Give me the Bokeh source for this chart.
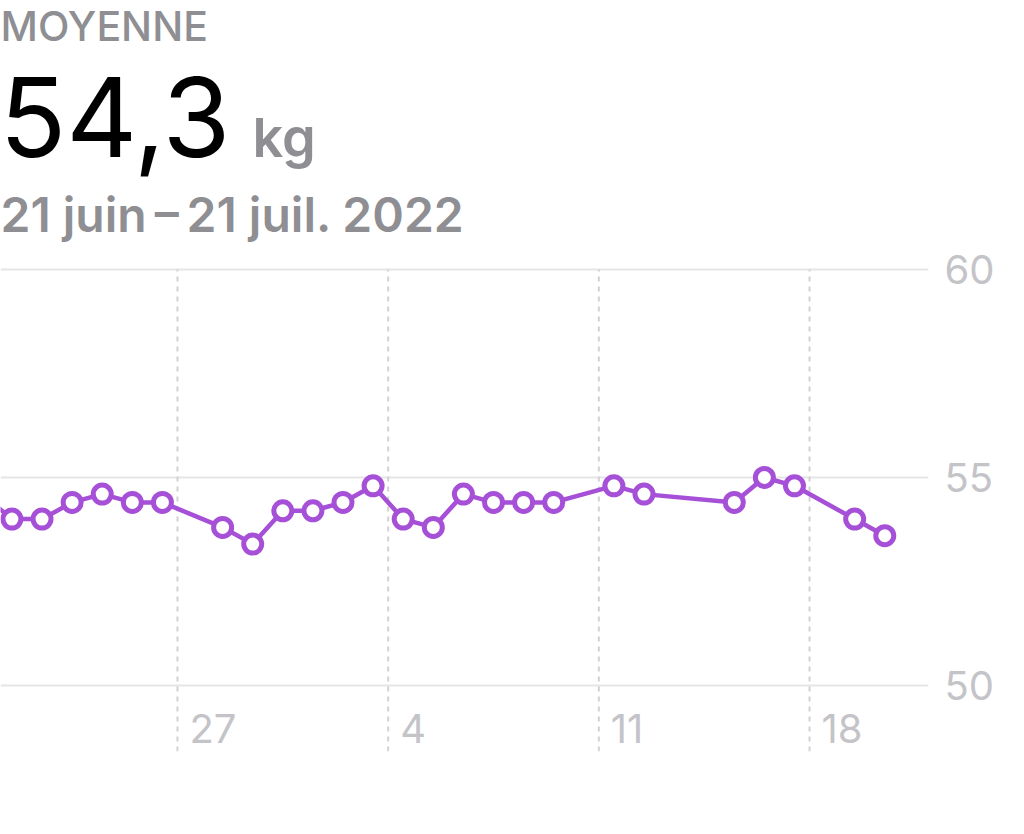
import pandas as pd
from bokeh.plotting import figure
from bokeh.models import Range1d, FixedTicker, Label, ColumnDataSource
from bokeh.embed import file_html
from bokeh.resources import INLINE
from bokeh.core.properties import value

# ---- data ----
dates = ["2022-06-20", "2022-06-21", "2022-06-22", "2022-06-23", "2022-06-24",
         "2022-06-25", "2022-06-26", "2022-06-28", "2022-06-29", "2022-06-30",
         "2022-07-01", "2022-07-02", "2022-07-03", "2022-07-04", "2022-07-05",
         "2022-07-06", "2022-07-07", "2022-07-08", "2022-07-09", "2022-07-11",
         "2022-07-12", "2022-07-15", "2022-07-16", "2022-07-17", "2022-07-19",
         "2022-07-20"]
weights = [54.6, 54.0, 54.0, 54.4, 54.6,
           54.4, 54.4, 53.8, 53.4, 54.2,
           54.2, 54.4, 54.8, 54.0, 53.8,
           54.6, 54.4, 54.4, 54.4, 54.8,
           54.6, 54.4, 55.0, 54.8, 54.0,
           53.6]
y_ticks = [50, 55, 60]
x_tick_dates = ["2022-06-27", "2022-07-04", "2022-07-11", "2022-07-18"]
x_tick_labels = ["27", "4", "11", "18"]
header_label = "MOYENNE"
average_text = "54,3"
unit_text = "kg"
period_text = "21 juin\u2009\u2013\u200921 juil. 2022"
view_start = "2022-06-21 02:53"
view_end = "2022-07-21 22:52"
y_bottom, y_top = 48.413, 66.466
grid_top = 60

# ---- helpers ----
def to_ms(ts):
    return pd.Timestamp(ts).value / 1e6

x_ms = [to_ms(pd.Timestamp(d) + pd.Timedelta(hours=12)) for d in dates]
tick_ms = [to_ms(d) for d in x_tick_dates]

PURPLE = "#a650d8"
GRAY = "#8e8e93"
LIGHT = "#c4c4c8"
FONT = "Inter"
FONT_MED = "Inter Medium, Inter"
FONT_SEMI = "Inter SemiBold, Inter"

p = figure(frame_width=928, frame_height=751,
           x_range=Range1d(to_ms(view_start), to_ms(view_end)),
           y_range=Range1d(y_bottom, y_top),
           y_axis_location="right", x_axis_location=None,
           output_backend="svg", toolbar_location=None,
           min_border_left=0, min_border_top=0, min_border_bottom=10,
           min_border_right=80, outline_line_color=None,
           background_fill_color="white", border_fill_color="white")

p.xgrid.visible = False

# y axis on the right
ax = p.yaxis[0]
ax.ticker = FixedTicker(ticks=y_ticks)
ax.axis_line_color = None
ax.major_tick_line_color = None
ax.minor_tick_line_color = None
ax.major_label_text_font = FONT
ax.major_label_text_font_size = "40px"
ax.major_label_text_color = LIGHT
ax.major_label_standoff = 10

p.ygrid.grid_line_color = "#e5e5e8"
p.ygrid.grid_line_width = 2

# dotted week lines (from the top gridline down past the bottom one)
p.segment(x0=tick_ms, x1=tick_ms, y0=[y_bottom] * len(tick_ms), y1=[grid_top] * len(tick_ms),
          line_color="#d2d2d6", line_width=2, line_dash="5 5")

# date tick labels (to the right of the dotted lines)
lab_src = ColumnDataSource(dict(x=tick_ms, y=[48.96] * len(tick_ms), text=x_tick_labels))
p.text(x="x", y="y", text="text", source=lab_src, x_offset=12,
       text_align="left", text_baseline="middle",
       text_font=value(FONT), text_font_size="40px", text_color=LIGHT)

# series
src = ColumnDataSource(dict(x=x_ms, y=weights))
p.line(x="x", y="y", source=src, line_color=PURPLE, line_width=4.5)
p.scatter(x="x", y="y", source=src, marker="circle", size=18,
          fill_color="white", line_color=PURPLE, line_width=5)

# header
p.add_layout(Label(x=0, y=726, x_units="screen", y_units="screen", text=header_label,
                   text_font=FONT_MED, text_font_size="41px", text_color=GRAY,
                   text_baseline="alphabetic"))
p.add_layout(Label(x=-1, y=635, x_units="screen", y_units="screen", text=average_text,
                   text_font=FONT, text_font_size="110px", text_color="black",
                   text_baseline="alphabetic"))
p.add_layout(Label(x=252, y=614, x_units="screen", y_units="screen", text=unit_text,
                   text_font=FONT_SEMI, text_font_size="54px", text_color=GRAY,
                   text_baseline="alphabetic"))
p.add_layout(Label(x=0, y=537, x_units="screen", y_units="screen", text=period_text,
                   text_font=FONT_SEMI, text_font_size="48px", text_color=GRAY,
                   text_baseline="alphabetic"))

open("out.html", "w").write(file_html(p, INLINE))
